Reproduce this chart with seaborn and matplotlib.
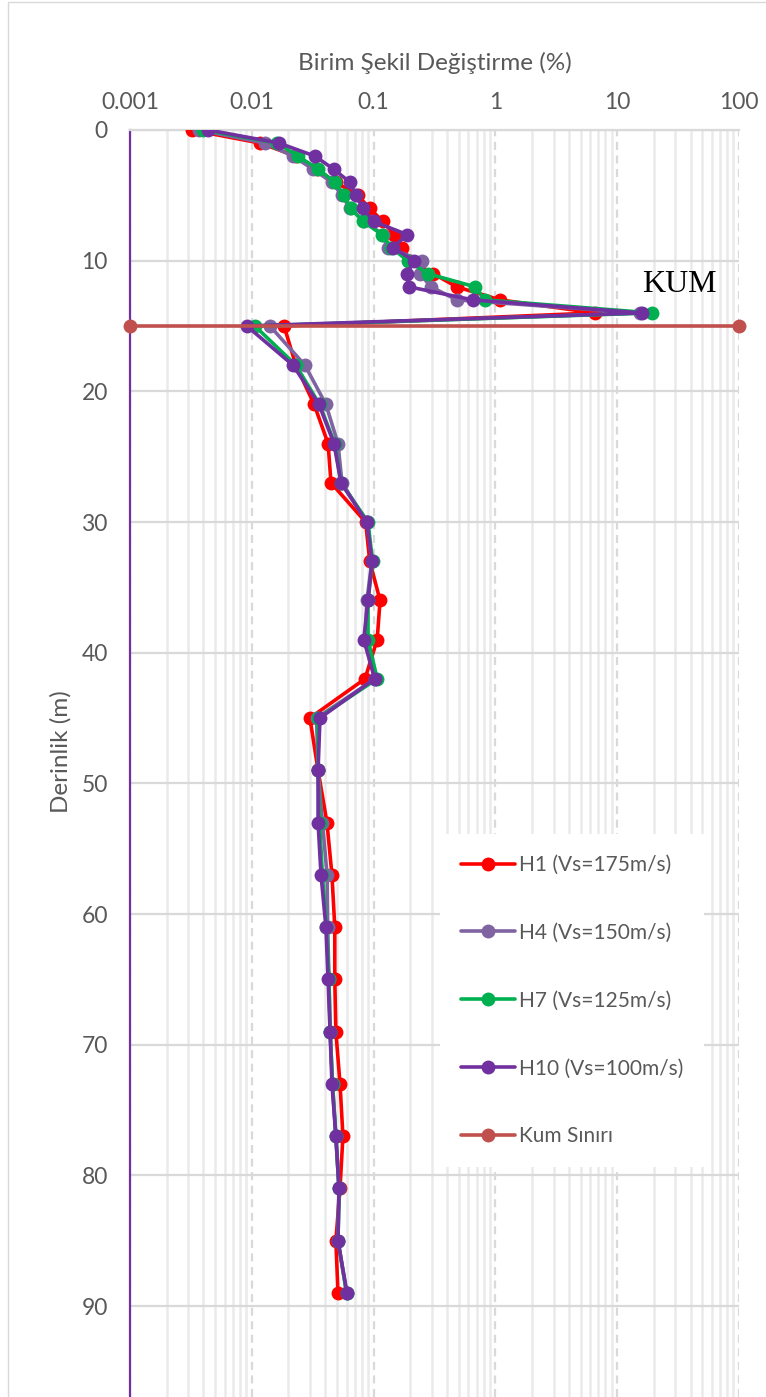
import numpy as np
import matplotlib
matplotlib.use("Agg")
import matplotlib.pyplot as plt
import seaborn as sns
from matplotlib.lines import Line2D
from matplotlib.patches import Rectangle
from matplotlib.ticker import FixedLocator, FixedFormatter, LogLocator, NullFormatter

# ---------------- data ----------------
depth = [0, 1, 2, 3, 4, 5, 6, 7, 8, 9, 10, 11, 12, 13, 14, 15, 18, 21, 24, 27,
         30, 33, 36, 39, 42, 45, 49, 53, 57, 61, 65, 69, 73, 77, 81, 85, 89]

h1 = [0.0032, 0.0117, 0.023, 0.034, 0.049, 0.074, 0.093, 0.119, 0.147, 0.171,
      0.20, 0.31, 0.48, 1.09, 6.6, 0.0184, 0.023, 0.0325, 0.0423, 0.0447,
      0.086, 0.093, 0.113, 0.107, 0.085, 0.030, 0.035, 0.0414, 0.0455, 0.048,
      0.048, 0.049, 0.053, 0.056, 0.053, 0.049, 0.051]

h4 = [0.0037, 0.0128, 0.0218, 0.0318, 0.0455, 0.055, 0.064, 0.084, 0.12, 0.131,
      0.25, 0.24, 0.296, 0.48, 15.3, 0.0141, 0.0273, 0.0406, 0.051, 0.055,
      0.088, 0.097, 0.088, 0.085, 0.103, 0.034, 0.035, 0.038, 0.0415, 0.042,
      0.043, 0.044, 0.046, 0.049, 0.052, 0.051, 0.060]

h7 = [0.0040, 0.0161, 0.024, 0.035, 0.048, 0.057, 0.065, 0.082, 0.117, 0.14,
      0.19, 0.28, 0.68, 0.82, 19.3, 0.0106, 0.023, 0.036, 0.048, 0.054,
      0.090, 0.098, 0.090, 0.090, 0.107, 0.035, 0.035, 0.036, 0.038, 0.041,
      0.043, 0.044, 0.046, 0.049, 0.052, 0.051, 0.060]

h10 = [0.0044, 0.0167, 0.033, 0.047, 0.064, 0.0716, 0.082, 0.100, 0.188, 0.144,
       0.215, 0.188, 0.195, 0.65, 16.0, 0.0091, 0.0218, 0.0356, 0.0473, 0.054,
       0.088, 0.097, 0.090, 0.083, 0.102, 0.0363, 0.035, 0.035, 0.037, 0.0406,
       0.0423, 0.0439, 0.0455, 0.049, 0.052, 0.051, 0.0605]

kum_x = [0.001, 100]
kum_y = [15, 15]

series_labels = ["H1 (Vs=175m/s)", "H4 (Vs=150m/s)", "H7 (Vs=125m/s)", "H10 (Vs=100m/s)"]
kum_label = "Kum Sınırı"
x_ticks = [0.001, 0.01, 0.1, 1, 10, 100]
x_tick_labels = ["0.001", "0.01", "0.1", "1", "10", "100"]
y_ticks = [0, 10, 20, 30, 40, 50, 60, 70, 80, 90]

colors = ["#FF0000", "#8064A2", "#00B050", "#7030A0"]
kum_color = "#C0504D"

# ---------------- style ----------------
sns.set_style("white")
plt.rcParams["font.family"] = ["Lato", "DejaVu Sans"]
text_color = "#595959"

W, H = 766, 1397
fig = plt.figure(figsize=(W / 100, H / 100), dpi=100)
left, right, top, bottom = 130, 739, 130, 1397
ax = fig.add_axes([left / W, 1 - bottom / H, (right - left) / W, (bottom - top) / H])

lw = 2.6
ms = 10
for xs, c, lab in zip([h1, h4, h7, h10], colors, series_labels):
    sns.lineplot(x=xs, y=depth, sort=False, estimator=None, color=c,
                 marker="o", markersize=ms, markeredgewidth=0, linewidth=lw,
                 ax=ax, legend=False, zorder=3)

sns.lineplot(x=kum_x, y=kum_y, sort=False, estimator=None, color=kum_color,
             marker="o", markersize=ms, markeredgewidth=0, linewidth=lw,
             ax=ax, legend=False, zorder=5)
ax.lines[-1].set_clip_on(False)

ax.set_xscale("log")
ax.set_xlim(0.001, 100)
ax.set_ylim((bottom - top) / 13.067, 0)

# ticks on top
ax.xaxis.tick_top()
ax.xaxis.set_label_position("top")
ax.xaxis.set_major_locator(FixedLocator(x_ticks))
ax.xaxis.set_major_formatter(FixedFormatter(x_tick_labels))
ax.xaxis.set_minor_locator(LogLocator(base=10, subs=np.arange(2, 10)))
ax.xaxis.set_minor_formatter(NullFormatter())
ax.set_yticks(y_ticks)
ax.set_yticklabels([str(v) for v in y_ticks])
ax.tick_params(axis="x", which="both", length=0, pad=12, labelsize=16.5, colors=text_color)
ax.tick_params(axis="y", which="both", length=0, pad=16, labelsize=16.5, colors=text_color)

# grids
ax.grid(False)
ax.set_axisbelow(True)
ax.xaxis.grid(True, which="minor", color="#EAEAEA", linewidth=1.8, zorder=0)
ax.xaxis.grid(True, which="major", color="#D9D9D9", linewidth=1.6,
              linestyle=(0, (3.6, 2.5)), zorder=0)
ax.yaxis.grid(True, which="major", color="#D9D9D9", linewidth=1.6, zorder=0)

for s in ["right", "bottom"]:
    ax.spines[s].set_visible(False)
ax.spines["top"].set_color("#D9D9D9")
ax.spines["top"].set_linewidth(1.6)
ax.spines["left"].set_color("#7030A0")
ax.spines["left"].set_linewidth(1.6)

ax.set_xlabel("Birim Şekil Değiştirme (%)", fontsize=17.5, color=text_color, labelpad=16)
ax.set_ylabel("Derinlik (m)", fontsize=17.5, color=text_color)
ax.yaxis.set_label_coords(-(left - 72) / (right - left), 1 - (752 - top) / (bottom - top))

# KUM annotation
ax.text(16, 11.8, "KUM", fontsize=23, family="Liberation Serif", color="black",
        ha="left", va="center")

# legend
handles = [Line2D([0], [0], color=c, lw=lw, marker="o", markersize=ms, markeredgewidth=0)
           for c in colors + [kum_color]]
leg = ax.legend(handles, series_labels + [kum_label], loc="upper left",
                bbox_to_anchor=(440 / W, 1 - 834 / H), bbox_transform=fig.transFigure,
                frameon=True, facecolor="white", edgecolor="none", framealpha=1,
                fontsize=15, labelspacing=2.3, handlelength=2.6, handletextpad=0.2,
                borderpad=1.0, borderaxespad=0)
leg.get_frame().set_boxstyle("square", pad=0)
for t in leg.get_texts():
    t.set_color(text_color)
leg.set_zorder(4)

# chart border
fig.patches.append(Rectangle((8 / W, -0.01), 1.0, 1 - 2 / H + 0.01, transform=fig.transFigure,
                             fill=False, edgecolor="#D9D9D9", linewidth=1.0))

fig.savefig("out.png", dpi=100, facecolor="white")
